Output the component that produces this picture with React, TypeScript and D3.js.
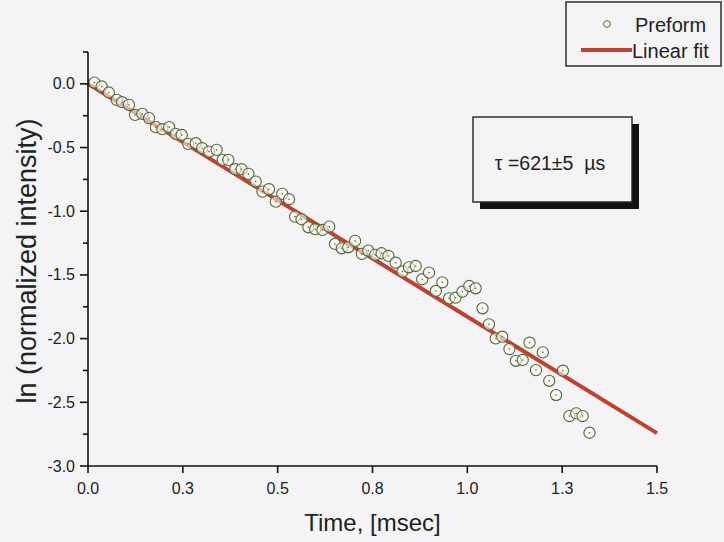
import React from "react";
import * as d3 from "d3";

// measured decay, time in msec, ln of normalized intensity
const times = [
  0.017, 0.036, 0.055, 0.076, 0.09, 0.108, 0.124, 0.143, 0.161, 0.179,
  0.196, 0.214, 0.231, 0.247, 0.264, 0.284, 0.301, 0.319, 0.339, 0.355,
  0.37, 0.388, 0.405, 0.423, 0.442, 0.46, 0.477, 0.495, 0.512, 0.53,
  0.546, 0.563, 0.581, 0.599, 0.618, 0.636, 0.651, 0.669, 0.686, 0.704,
  0.722, 0.739, 0.757, 0.774, 0.792, 0.811, 0.829, 0.846, 0.864, 0.881,
  0.899, 0.917, 0.934, 0.952, 0.969, 0.987, 1.005, 1.022, 1.04, 1.057,
  1.075, 1.092, 1.111, 1.128, 1.146, 1.164, 1.181, 1.199, 1.216, 1.234,
  1.252, 1.269, 1.287, 1.304, 1.322,
];
const lnIntensity = [
  0.01, -0.021, -0.068, -0.126, -0.144, -0.165, -0.244, -0.236, -0.269, -0.34,
  -0.356, -0.34, -0.393, -0.401, -0.471, -0.466, -0.505, -0.532, -0.518, -0.597,
  -0.597, -0.67, -0.67, -0.707, -0.767, -0.846, -0.827, -0.925, -0.864, -0.906,
  -1.042, -1.063, -1.126, -1.141, -1.147, -1.121, -1.257, -1.291, -1.283, -1.233,
  -1.335, -1.309, -1.343, -1.33, -1.351, -1.404, -1.474, -1.44, -1.43, -1.534,
  -1.482, -1.626, -1.558, -1.684, -1.679, -1.632, -1.587, -1.605, -1.762, -1.888,
  -1.998, -1.985, -2.082, -2.174, -2.168, -2.032, -2.247, -2.108, -2.331, -2.443,
  -2.252, -2.608, -2.587, -2.608, -2.739,
];

// linear fit endpoints
const fitTimes = [0, 1.5];
const fitValues = [0, -2.742];

const xTicks = [0, 0.25, 0.5, 0.75, 1.0, 1.25, 1.5];
const xTickLabels = ["0.0", "0.3", "0.5", "0.8", "1.0", "1.3", "1.5"];
const yTicks = [0, -0.5, -1.0, -1.5, -2.0, -2.5, -3.0];
const yTickLabels = ["0.0", "-0.5", "-1.0", "-1.5", "-2.0", "-2.5", "-3.0"];
const yMinorTicks = [0.25, -0.25, -0.75, -1.25, -1.75, -2.25, -2.75];

const W = 724;
const H = 542;
const FONT = "'Liberation Sans', Arial, Helvetica, sans-serif";
const BG = "#f4f4f6";
const RED = "#c1412f";
const MARK = "#56683c";

const App: React.FC = () => {
  const x = d3.scaleLinear().domain([0, 1.5]).range([88, 657]);
  const y = d3.scaleLinear().domain([-3, 0.25]).range([466, 52]);

  const points = times.map((t, i) => ({ t, v: lnIntensity[i] }));
  const fitLine = d3
    .line<number>()
    .x((d) => x(fitTimes[d]))
    .y((d) => y(fitValues[d]));

  const x0 = x(0);
  const y0 = y(-3);

  return (
    <svg
      width={W}
      height={H}
      style={{ position: "absolute", left: 0, top: 0 }}
      fontFamily={FONT}
    >
      <rect width={W} height={H} fill={BG} />

      {/* fit line */}
      <path
        d={fitLine([0, 1]) || ""}
        fill="none"
        stroke={RED}
        strokeWidth={4}
      />

      {/* data points */}
      {points.map((p, i) => (
        <g key={i} transform={`translate(${x(p.t)},${y(p.v)})`}>
          <circle r={5.6} fill="#f7f8ee" fillOpacity={0.6} stroke={MARK} strokeWidth={1.1} />
          <circle r={0.8} fill={MARK} />
        </g>
      ))}

      {/* axes */}
      <line x1={x0} x2={x0} y1={y(0.25)} y2={y0} stroke="#111" strokeWidth={1.6} />
      <line x1={x0} x2={x(1.5)} y1={y0} y2={y0} stroke="#111" strokeWidth={1.6} />

      {yTicks.map((v, i) => (
        <g key={"yt" + i}>
          <line x1={x0 - 8} x2={x0} y1={y(v)} y2={y(v)} stroke="#111" strokeWidth={1.6} />
          <text
            x={x0 - 13}
            y={y(v) + 5.5}
            textAnchor="end"
            fontSize={16}
            fill="#222"
          >
            {yTickLabels[i]}
          </text>
        </g>
      ))}
      {yMinorTicks.map((v, i) => (
        <line
          key={"ym" + i}
          x1={x0 - 5}
          x2={x0}
          y1={y(v)}
          y2={y(v)}
          stroke="#111"
          strokeWidth={1.6}
        />
      ))}
      {xTicks.map((t, i) => (
        <g key={"xt" + i}>
          <line x1={x(t)} x2={x(t)} y1={y0} y2={y0 + 7} stroke="#111" strokeWidth={1.6} />
          <text x={x(t)} y={y0 + 28} textAnchor="middle" fontSize={16} fill="#222">
            {xTickLabels[i]}
          </text>
        </g>
      ))}

      {/* axis titles */}
      <text
        transform={`translate(36,${(y(0.25) + y0) / 2 + 2}) rotate(-90)`}
        textAnchor="middle"
        fontSize={27}
        fill="#222"
      >
        ln (normalized intensity)
      </text>
      <text x={(x0 + x(1.5)) / 2} y={531} textAnchor="middle" fontSize={24} fill="#222">
        Time, [msec]
      </text>

      {/* legend */}
      <rect x={566} y={2} width={155} height={64} fill={BG} stroke="#222" strokeWidth={1.4} />
      <circle cx={607} cy={24} r={3.4} fill="#f7f8ee" stroke={MARK} strokeWidth={1} />
      <text x={635} y={32} fontSize={20} fill="#222">
        Preform
      </text>
      <line x1={581} x2={632} y1={50} y2={50} stroke={RED} strokeWidth={4} />
      <text x={632} y={58} fontSize={20} fill="#222">
        Linear fit
      </text>

      {/* annotation with drop shadow */}
      <rect x={480} y={124} width={159} height={85} fill="#111" />
      <rect x={473} y={117} width={159} height={85} fill={BG} stroke="#222" strokeWidth={1.4} />
      <text
        x={550}
        y={170}
        textAnchor="middle"
        fontSize={19.5}
        fill="#222"
        style={{ whiteSpace: "pre" }}
      >
        {"τ =621±5  µs"}
      </text>
    </svg>
  );
};

export default App;
